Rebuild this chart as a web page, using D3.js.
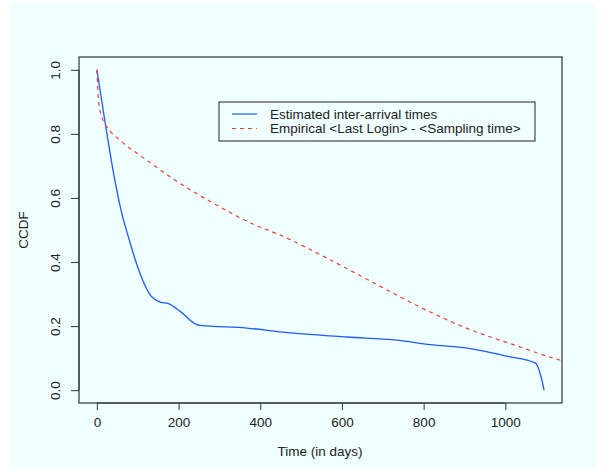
<!DOCTYPE html>
<html>
<head>
<meta charset="utf-8">
<script src="https://cdn.jsdelivr.net/npm/d3@7"></script>
<style>
  body { margin: 0; background: #fff; }
  text { font-family: "Liberation Sans", Arial, sans-serif; fill: #222; }
</style>
</head>
<body>
<svg id="chart" width="603" height="468"></svg>
<script>
// estimated inter-arrival times (days, CCDF)
var estDays = [0, 20, 41, 61, 77, 94, 110, 130, 155, 175, 204, 241, 253, 367, 449, 612, 735, 816, 914, 1004, 1073, 1086, 1095];
var estCcdf = [1.0, 0.837, 0.676, 0.552, 0.479, 0.407, 0.350, 0.298, 0.275, 0.270, 0.246, 0.207, 0.202, 0.194, 0.182, 0.166, 0.156, 0.142, 0.130, 0.106, 0.085, 0.049, 0.0];

// empirical last login - sampling time
var empDays = [0, 4, 12, 28, 57, 122, 204, 286, 383, 449, 571, 694, 816, 914, 1020, 1139, 1160];
var empCcdf = [1.0, 0.904, 0.853, 0.816, 0.780, 0.718, 0.645, 0.583, 0.518, 0.484, 0.407, 0.324, 0.244, 0.189, 0.142, 0.092, 0.085];

var xTicks = [0, 200, 400, 600, 800, 1000];
var yTicks = [0, 0.2, 0.4, 0.6, 0.8, 1.0];
var seriesNames = ["Estimated inter-arrival times", "Empirical <Last Login> - <Sampling time>"];

var svg = d3.select("#chart");
var plotL = 79, plotR = 562, plotT = 57, plotB = 403;

svg.append("rect")
  .attr("x", 10).attr("y", 3)
  .attr("width", 586).attr("height", 465)
  .attr("fill", "#f0ffff");

// R style 4% padding on both ends
var x = d3.scaleLinear().domain([-43.8, 1138.8]).range([plotL, plotR]);
var y = d3.scaleLinear().domain([-0.04, 1.04]).range([plotB, plotT]);

svg.append("clipPath").attr("id", "clip")
  .append("rect")
  .attr("x", plotL).attr("y", plotT)
  .attr("width", plotR - plotL).attr("height", plotB - plotT);

var line = d3.line().curve(d3.curveMonotoneX).x(d => x(d[0])).y(d => y(d[1]));

svg.append("path")
  .datum(estDays.map((d, i) => [d, estCcdf[i]]))
  .attr("d", line)
  .attr("fill", "none")
  .attr("stroke", "#1f5cff")
  .attr("stroke-width", 1.3)
  .attr("clip-path", "url(#clip)");

svg.append("path")
  .datum(empDays.map((d, i) => [d, empCcdf[i]]))
  .attr("d", line)
  .attr("fill", "none")
  .attr("stroke", "#f2402c")
  .attr("stroke-width", 1.2)
  .attr("stroke-dasharray", "4,4")
  .attr("clip-path", "url(#clip)");

// box
svg.append("rect")
  .attr("x", plotL).attr("y", plotT)
  .attr("width", plotR - plotL).attr("height", plotB - plotT)
  .attr("fill", "none").attr("stroke", "#333").attr("stroke-width", 1.2);

// x axis
var xAxis = svg.append("g")
  .attr("transform", `translate(0,${plotB})`)
  .call(d3.axisBottom(x).tickValues(xTicks).tickSize(7).tickPadding(7).tickFormat(d3.format("d")));
xAxis.select(".domain")
  .attr("d", `M${x(xTicks[0])},0H${x(xTicks[xTicks.length - 1])}`)
  .attr("stroke", "#333");
xAxis.selectAll("line").attr("stroke", "#333");
xAxis.selectAll("text").attr("font-size", 13.5).attr("fill", "#222")
  .attr("font-family", "Liberation Sans, Arial, sans-serif");

// y axis
var yAxis = svg.append("g")
  .attr("transform", `translate(${plotL},0)`)
  .call(d3.axisLeft(y).tickValues(yTicks).tickSize(8).tickFormat(d3.format(".1f")));
yAxis.select(".domain")
  .attr("d", `M0,${y(0)}V${y(1)}`)
  .attr("stroke", "#333");
yAxis.selectAll("line").attr("stroke", "#333");
yAxis.selectAll("text")
  .attr("font-size", 13.5).attr("fill", "#222")
  .attr("font-family", "Liberation Sans, Arial, sans-serif")
  .attr("x", null).attr("dy", null)
  .attr("text-anchor", "middle")
  .attr("transform", "translate(-24,0) rotate(-90)")
  .attr("y", 0)
  .attr("dominant-baseline", "central");

// axis titles
svg.append("text")
  .attr("x", 320).attr("y", 456)
  .attr("text-anchor", "middle")
  .attr("font-size", 13.5)
  .text("Time (in days)");

svg.append("text")
  .attr("transform", `translate(28,${(plotT + plotB) / 2}) rotate(-90)`)
  .attr("text-anchor", "middle")
  .attr("font-size", 13.5)
  .text("CCDF");

// legend
var lg = svg.append("g");
lg.append("rect")
  .attr("x", 219).attr("y", 102)
  .attr("width", 316).attr("height", 39)
  .attr("fill", "#f0ffff").attr("stroke", "#222").attr("stroke-width", 1);

var legendRows = [
  { name: seriesNames[0], color: "#1f5cff", dash: null, yy: 114 },
  { name: seriesNames[1], color: "#f2402c", dash: "4,4", yy: 128.5 }
];
legendRows.forEach(r => {
  lg.append("line")
    .attr("x1", 232).attr("x2", 257)
    .attr("y1", r.yy).attr("y2", r.yy)
    .attr("stroke", r.color).attr("stroke-width", 1.2)
    .attr("stroke-dasharray", r.dash);
  lg.append("text")
    .attr("x", 270).attr("y", r.yy)
    .attr("dy", "0.35em")
    .attr("font-size", 13.5)
    .text(r.name);
});
</script>
</body>
</html>
